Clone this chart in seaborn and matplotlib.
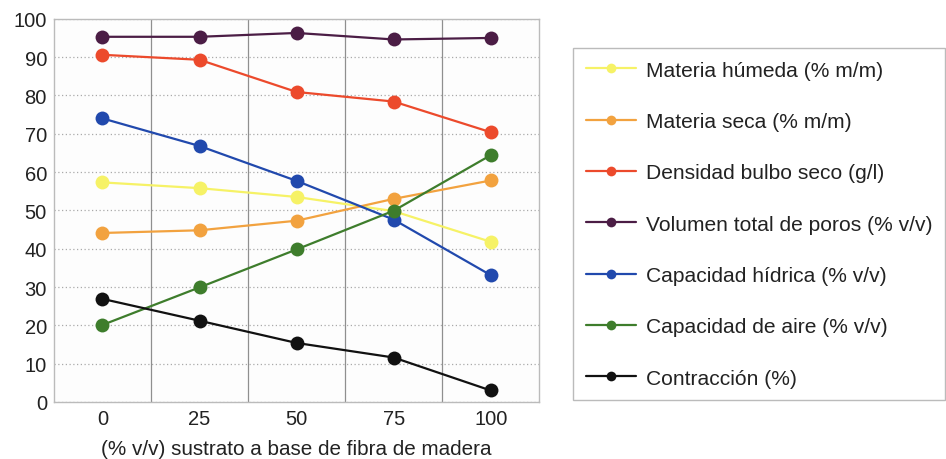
import matplotlib
matplotlib.use("Agg")
import matplotlib.pyplot as plt
import seaborn as sns
import pandas as pd

# data
x_vals = [0, 25, 50, 75, 100]
series_names = [
    "Materia húmeda (% m/m)",
    "Materia seca (% m/m)",
    "Densidad bulbo seco (g/l)",
    "Volumen total de poros (% v/v)",
    "Capacidad hídrica (% v/v)",
    "Capacidad de aire (% v/v)",
    "Contracción (%)",
]
materia_humeda = [57.3, 55.8, 53.5, 49.8, 41.8]
materia_seca = [44.1, 44.8, 47.3, 53.0, 57.8]
densidad = [90.6, 89.3, 80.9, 78.4, 70.4]
volumen_poros = [95.3, 95.3, 96.3, 94.6, 95.0]
capacidad_hidrica = [74.0, 66.8, 57.7, 47.6, 33.1]
capacidad_aire = [20.1, 29.9, 39.8, 49.9, 64.4]
contraccion = [26.9, 21.2, 15.4, 11.6, 3.0]
colors = ["#f6f266", "#f2a23f", "#ec4a2c", "#4b1d45", "#2149ad", "#3e7d2c", "#111111"]

values = [materia_humeda, materia_seca, densidad, volumen_poros,
          capacidad_hidrica, capacidad_aire, contraccion]
rows = []
for name, vals in zip(series_names, values):
    for xv, yv in zip(x_vals, vals):
        rows.append({"x": xv, "valor": yv, "serie": name})
df = pd.DataFrame(rows)

sns.set_style("white")
plt.rcParams["font.family"] = ["Liberation Sans", "DejaVu Sans"]
fs = 14.5

fig = plt.figure(figsize=(9.46, 4.60), dpi=100)
ax = fig.add_axes([0.057, 0.124, 0.513, 0.833])
ax.set_facecolor("#fdfdfd")

sns.lineplot(data=df, x="x", y="valor", hue="serie", hue_order=series_names,
             palette=colors, marker="o", markersize=10, markeredgewidth=0,
             linewidth=1.6, ax=ax, legend=True)

ax.set_xlim(-12.5, 112.5)
ax.set_ylim(0, 100)
ax.set_xticks(x_vals)
ax.set_yticks(range(0, 101, 10))
ax.set_xticks([12.5, 37.5, 62.5, 87.5], minor=True)
ax.grid(which="minor", axis="x", color="#8f8f8f", linewidth=0.9)
ax.grid(which="major", axis="y", color="#aaaaaa", linewidth=0.9, linestyle=(0, (1, 2)))
ax.grid(which="major", axis="x", visible=False)
ax.tick_params(axis="both", which="major", labelsize=fs, length=0, pad=5, colors="#222222")
ax.tick_params(axis="x", which="minor", length=0)
for s in ax.spines.values():
    s.set_color("#bbbbbb")
    s.set_linewidth(1.0)
ax.set_xlabel("(% v/v) sustrato a base de fibra de madera", fontsize=14.9,
              color="#222222", labelpad=8)
ax.set_ylabel("")

handles, labels = ax.get_legend_handles_labels()
ax.get_legend().remove()
for h in handles:
    h.set_markersize(7)
leg = fig.legend(handles, labels, loc="upper left", bbox_to_anchor=(0.606, 0.893),
                 fontsize=15.1, labelspacing=1.54, handlelength=2.4, handletextpad=0.45,
                 borderpad=0.6, frameon=True, fancybox=False, borderaxespad=0)
leg.get_frame().set_edgecolor("#aaaaaa")
leg.get_frame().set_linewidth(1.0)
for t in leg.get_texts():
    t.set_color("#222222")

fig.savefig("out.png", dpi=100, facecolor="white")
